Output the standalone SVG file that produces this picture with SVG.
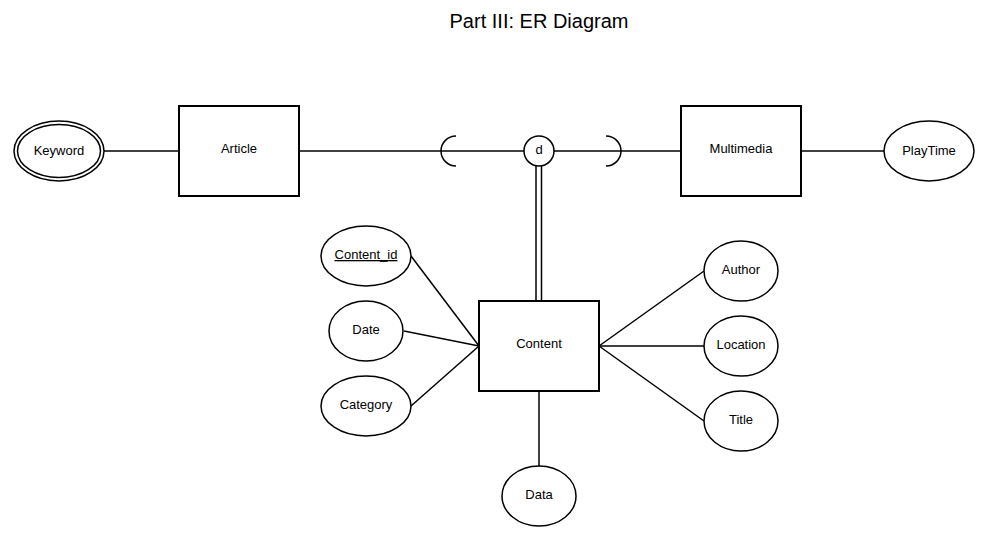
<svg xmlns="http://www.w3.org/2000/svg" width="989" height="538" viewBox="0 0 989 538">
<style>
.ent{fill:#fff;stroke:#000;stroke-width:2}
.att{fill:#fff;stroke:#000;stroke-width:1.5}
.ln{stroke:#000;stroke-width:1.5;fill:none}
.lbl{font-family:"Liberation Sans",Arial,sans-serif;font-size:13px;fill:#000;text-anchor:middle}
.title{font-family:"Liberation Sans",Arial,sans-serif;font-size:20px;fill:#000;text-anchor:middle}
</style>
<rect width="989" height="538" fill="#fff"/>
<text class="title" x="539" y="28">Part III: ER Diagram</text>
<g id="connectors">
<line class="ln" x1="104" y1="151" x2="179" y2="151"/>
<line class="ln" x1="299" y1="151" x2="524" y2="151"/>
<line class="ln" x1="554" y1="151" x2="681" y2="151"/>
<line class="ln" x1="801" y1="151" x2="884" y2="151"/>
<path class="ln" d="M456,136 A15,15 0 0 0 456,166"/>
<path class="ln" d="M606,136 A15,15 0 0 1 606,166"/>
<line class="ln" x1="536" y1="166" x2="536" y2="301" stroke-width="2.2"/>
<line class="ln" x1="541.5" y1="166" x2="541.5" y2="301" stroke-width="2.2"/>
<line class="ln" x1="479" y1="346" x2="411" y2="256"/>
<line class="ln" x1="479" y1="346" x2="404" y2="331"/>
<line class="ln" x1="479" y1="346" x2="411" y2="406"/>
<line class="ln" x1="599" y1="346" x2="704" y2="271"/>
<line class="ln" x1="599" y1="346" x2="704" y2="346"/>
<line class="ln" x1="599" y1="346" x2="704" y2="421"/>
<line class="ln" x1="539" y1="391" x2="539" y2="466"/>
</g>
<g id="keyword">
<ellipse class="att" cx="59" cy="151" rx="45" ry="30"/>
<ellipse class="att" cx="59" cy="151" rx="41.5" ry="26.5"/>
<text class="lbl" x="59" y="154.5">Keyword</text>
</g>
<g id="article">
<rect class="ent" x="179" y="106" width="120" height="90"/>
<text class="lbl" x="239" y="153">Article</text>
</g>
<g id="d">
<circle class="att" cx="539" cy="151" r="15"/>
<text class="lbl" x="539" y="154">d</text>
</g>
<g id="multimedia">
<rect class="ent" x="681" y="106" width="120" height="90"/>
<text class="lbl" x="741" y="153">Multimedia</text>
</g>
<g id="playtime">
<ellipse class="att" cx="929" cy="151" rx="45" ry="30"/>
<text class="lbl" x="929" y="154.5">PlayTime</text>
</g>
<g id="content">
<rect class="ent" x="479" y="301" width="120" height="90"/>
<text class="lbl" x="539" y="348">Content</text>
</g>
<g id="content_id">
<ellipse class="att" cx="366" cy="256" rx="45" ry="30"/>
<text class="lbl" x="366" y="259" text-decoration="underline">Content_id</text>
</g>
<g id="date">
<ellipse class="att" cx="366" cy="331" rx="37" ry="30"/>
<text class="lbl" x="366" y="334">Date</text>
</g>
<g id="category">
<ellipse class="att" cx="366" cy="406" rx="45" ry="30"/>
<text class="lbl" x="366" y="409">Category</text>
</g>
<g id="author">
<ellipse class="att" cx="741" cy="271" rx="37" ry="30"/>
<text class="lbl" x="741" y="274">Author</text>
</g>
<g id="location">
<ellipse class="att" cx="741" cy="346" rx="37" ry="30"/>
<text class="lbl" x="741" y="349">Location</text>
</g>
<g id="title">
<ellipse class="att" cx="741" cy="421" rx="37" ry="30"/>
<text class="lbl" x="741" y="424">Title</text>
</g>
<g id="data">
<ellipse class="att" cx="539" cy="496" rx="37" ry="30"/>
<text class="lbl" x="539" y="499">Data</text>
</g>
</svg>
